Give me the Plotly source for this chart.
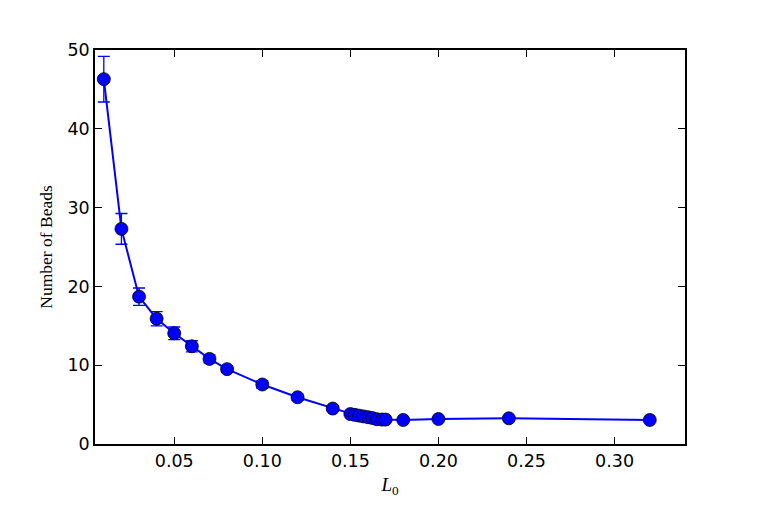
import plotly.graph_objects as go

# L0 values and mean number of beads with error bars
l0 = [0.01, 0.02, 0.03, 0.04, 0.05, 0.06, 0.07, 0.08, 0.10, 0.12, 0.14,
      0.150, 0.1525, 0.155, 0.1575, 0.160, 0.1625, 0.165, 0.168, 0.170,
      0.18, 0.20, 0.24, 0.32]
beads = [46.3, 27.3, 18.7, 15.9, 14.05, 12.4, 10.8, 9.5, 7.55, 5.93, 4.5,
         3.8, 3.7, 3.6, 3.5, 3.4, 3.3, 3.15, 3.1, 3.1,
         3.05, 3.17, 3.26, 3.05]
beads_err = [2.9, 1.95, 1.1, 0.9, 0.8, 0.7, 0.5, 0.4, 0.5, 0.4, 0.25,
             0.2, 0.2, 0.2, 0.2, 0.2, 0.2, 0.2, 0.15, 0.15,
             0.15, 0.15, 0.15, 0.15]

x_ticks = [0.05, 0.10, 0.15, 0.20, 0.25, 0.30]
y_ticks = [0, 10, 20, 30, 40, 50]

fig = go.Figure()
fig.add_trace(
    go.Scatter(
        x=l0,
        y=beads,
        mode="lines+markers",
        line=dict(color="#0000ff", width=2),
        marker=dict(size=13, color="#0000ff", line=dict(color="black", width=0.8)),
        error_y=dict(type="data", array=beads_err, color="#0000ff",
                     thickness=1.3, width=6),
        showlegend=False,
    )
)

axis_common = dict(
    showline=True,
    linecolor="black",
    linewidth=1.5,
    mirror="ticks",
    ticks="inside",
    ticklen=7,
    tickwidth=1,
    tickcolor="black",
    showgrid=False,
    zeroline=False,
    tickfont=dict(family="DejaVu Sans", size=17.5, color="black"),
)

fig.update_xaxes(
    range=[0.005, 0.34],
    tickvals=x_ticks,
    tickformat=".2f",
    title=dict(text="<i>L</i><sub>0</sub>",
               font=dict(family="Liberation Serif", size=19, color="black"),
               standoff=8),
    **axis_common,
)
fig.update_yaxes(
    range=[0, 50],
    tickvals=y_ticks,
    title=dict(text="Number of Beads",
               font=dict(family="Liberation Serif", size=17.5, color="black"),
               standoff=10),
    **axis_common,
)

# page body adds an 8px offset, so margins are shifted to match
fig.update_layout(
    width=761,
    height=508,
    margin=dict(l=87, r=84, t=42, b=72),
    plot_bgcolor="white",
    paper_bgcolor="white",
)

fig.write_html("out.html")
